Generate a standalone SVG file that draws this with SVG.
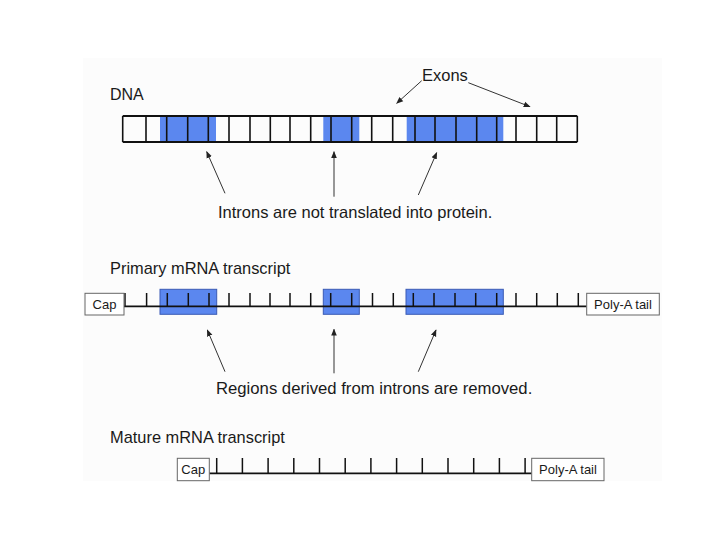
<svg xmlns="http://www.w3.org/2000/svg" width="720" height="540" viewBox="0 0 720 540">
<defs>
<marker id="ah" viewBox="0 0 10 10" refX="9" refY="5" markerWidth="7" markerHeight="7" orient="auto" markerUnits="userSpaceOnUse">
<path d="M0,1 L10,5 L0,9 z" fill="#222"/>
</marker>
<style>
.t{font-family:"Liberation Sans",Arial,sans-serif;fill:#1a1a1a}
.title{font-size:16.4px}
.lbl{font-size:16.5px}
.box{font-family:"Liberation Sans",Arial,sans-serif;font-size:13px;fill:#1a1a1a;text-anchor:middle}
.bx{fill:#fff;stroke:#666;stroke-width:1}
.blue{fill:#5b87ef}
.bluebox{fill:#5b87ef;stroke:#3a5bb5;stroke-width:1}
.div{stroke:#111;stroke-width:1.6}
.edge{stroke:#111;stroke-width:1.8;fill:none}
.tick{stroke:#111;stroke-width:1.5}
.arr{stroke:#333;stroke-width:1;fill:none;marker-end:url(#ah)}
</style>
</defs>
<rect width="720" height="540" fill="#ffffff"/>
<rect x="83" y="58" width="579" height="423" fill="#fcfcfc"/>

<g id="dna">
<text class="t" style="font-size:16px" x="110" y="100">DNA</text>
<rect class="blue" x="160" y="116" width="56" height="26"/>
<rect class="blue" x="323.3" y="116" width="36" height="26"/>
<rect class="blue" x="406.7" y="116" width="96.6" height="26"/>
<line class="edge" x1="122.7" y1="116" x2="577.3" y2="116"/>
<line class="edge" x1="122.7" y1="142" x2="577.3" y2="142"/>
<g class="div">
<line x1="122.7" y1="116" x2="122.7" y2="142"/>
<line x1="146" y1="116" x2="146" y2="142"/>
<line x1="166.7" y1="116" x2="166.7" y2="142"/>
<line x1="187.7" y1="116" x2="187.7" y2="142"/>
<line x1="208.3" y1="116" x2="208.3" y2="142"/>
<line x1="229" y1="116" x2="229" y2="142"/>
<line x1="250" y1="116" x2="250" y2="142"/>
<line x1="270.3" y1="116" x2="270.3" y2="142"/>
<line x1="290" y1="116" x2="290" y2="142"/>
<line x1="310.7" y1="116" x2="310.7" y2="142"/>
<line x1="331" y1="116" x2="331" y2="142"/>
<line x1="351.7" y1="116" x2="351.7" y2="142"/>
<line x1="371.7" y1="116" x2="371.7" y2="142"/>
<line x1="392.7" y1="116" x2="392.7" y2="142"/>
<line x1="415" y1="116" x2="415" y2="142"/>
<line x1="435" y1="116" x2="435" y2="142"/>
<line x1="456" y1="116" x2="456" y2="142"/>
<line x1="476.7" y1="116" x2="476.7" y2="142"/>
<line x1="496.7" y1="116" x2="496.7" y2="142"/>
<line x1="516" y1="116" x2="516" y2="142"/>
<line x1="536.7" y1="116" x2="536.7" y2="142"/>
<line x1="556.7" y1="116" x2="556.7" y2="142"/>
<line x1="577.3" y1="116" x2="577.3" y2="142"/>
</g>
</g>

<g id="exons-label">
<text class="t lbl" x="422" y="81">Exons</text>
</g>

<g id="introns-label">
<text class="t lbl" x="218" y="218">Introns are not translated into protein.</text>
</g>

<g id="primary">
<text class="t title" x="110" y="274">Primary mRNA transcript</text>
<rect class="bluebox" x="160" y="289.3" width="56.7" height="25"/>
<rect class="bluebox" x="323.3" y="289.3" width="36" height="25"/>
<rect class="bluebox" x="406" y="289.3" width="97.3" height="25"/>
<line class="edge" x1="124" y1="306.3" x2="586.7" y2="306.3"/>
<g class="tick">
<line x1="125" y1="293" x2="125" y2="306.3"/>
<line x1="146.6" y1="293" x2="146.6" y2="306.3"/>
<line x1="167.3" y1="293" x2="167.3" y2="306.3"/>
<line x1="188.3" y1="293" x2="188.3" y2="306.3"/>
<line x1="209" y1="293" x2="209" y2="306.3"/>
<line x1="229" y1="293" x2="229" y2="306.3"/>
<line x1="250" y1="293" x2="250" y2="306.3"/>
<line x1="270" y1="293" x2="270" y2="306.3"/>
<line x1="290" y1="293" x2="290" y2="306.3"/>
<line x1="310.7" y1="293" x2="310.7" y2="306.3"/>
<line x1="330.7" y1="293" x2="330.7" y2="306.3"/>
<line x1="351.7" y1="293" x2="351.7" y2="306.3"/>
<line x1="372.5" y1="293" x2="372.5" y2="306.3"/>
<line x1="393.3" y1="293" x2="393.3" y2="306.3"/>
<line x1="413.3" y1="293" x2="413.3" y2="306.3"/>
<line x1="434" y1="293" x2="434" y2="306.3"/>
<line x1="455" y1="293" x2="455" y2="306.3"/>
<line x1="475.7" y1="293" x2="475.7" y2="306.3"/>
<line x1="496.7" y1="293" x2="496.7" y2="306.3"/>
<line x1="516" y1="293" x2="516" y2="306.3"/>
<line x1="536.7" y1="293" x2="536.7" y2="306.3"/>
<line x1="557.3" y1="293" x2="557.3" y2="306.3"/>
<line x1="578.3" y1="293" x2="578.3" y2="306.3"/>
</g>
</g>

<g id="primary-cap">
<rect class="bx" x="85" y="293.3" width="39" height="21.7"/>
<text class="box" x="104.5" y="308.7">Cap</text>
</g>
<g id="primary-polya">
<rect class="bx" x="586.7" y="293.3" width="72.6" height="21.7"/>
<text class="box" x="623" y="308.7">Poly-A tail</text>
</g>

<g id="regions-label">
<text class="t lbl" style="font-size:16.7px" x="216" y="394">Regions derived from introns are removed.</text>
</g>

<g id="mature">
<text class="t title" x="110" y="443">Mature mRNA transcript</text>
<line class="edge" x1="209.3" y1="473.3" x2="531.7" y2="473.3"/>
<g class="tick">
<line x1="216.7" y1="458" x2="216.7" y2="473.3"/>
<line x1="242.4" y1="458" x2="242.4" y2="473.3"/>
<line x1="268.1" y1="458" x2="268.1" y2="473.3"/>
<line x1="293.8" y1="458" x2="293.8" y2="473.3"/>
<line x1="319.5" y1="458" x2="319.5" y2="473.3"/>
<line x1="345.2" y1="458" x2="345.2" y2="473.3"/>
<line x1="370.9" y1="458" x2="370.9" y2="473.3"/>
<line x1="396.6" y1="458" x2="396.6" y2="473.3"/>
<line x1="422.3" y1="458" x2="422.3" y2="473.3"/>
<line x1="448" y1="458" x2="448" y2="473.3"/>
<line x1="473.7" y1="458" x2="473.7" y2="473.3"/>
<line x1="499.4" y1="458" x2="499.4" y2="473.3"/>
<line x1="525.1" y1="458" x2="525.1" y2="473.3"/>
</g>
</g>

<g id="mature-cap">
<rect class="bx" x="177.3" y="458.3" width="32" height="22.4"/>
<text class="box" x="193.3" y="474.2">Cap</text>
</g>
<g id="mature-polya">
<rect class="bx" x="531.7" y="458.3" width="72.3" height="22.4"/>
<text class="box" x="568" y="474.2">Poly-A tail</text>
</g>

<g id="connectors">
<line class="arr" x1="421.7" y1="80.7" x2="396.7" y2="103.3"/>
<line class="arr" x1="468.3" y1="82.7" x2="530" y2="106.7"/>
<line class="arr" x1="225" y1="193.3" x2="206.7" y2="151.7"/>
<line class="arr" x1="334" y1="196.7" x2="334" y2="151.7"/>
<line class="arr" x1="418.3" y1="195" x2="436.7" y2="152.7"/>
<line class="arr" x1="225" y1="371.7" x2="207.3" y2="330"/>
<line class="arr" x1="334" y1="373.3" x2="334" y2="329.3"/>
<line class="arr" x1="418.3" y1="371.7" x2="436" y2="330"/>
</g>
</svg>
